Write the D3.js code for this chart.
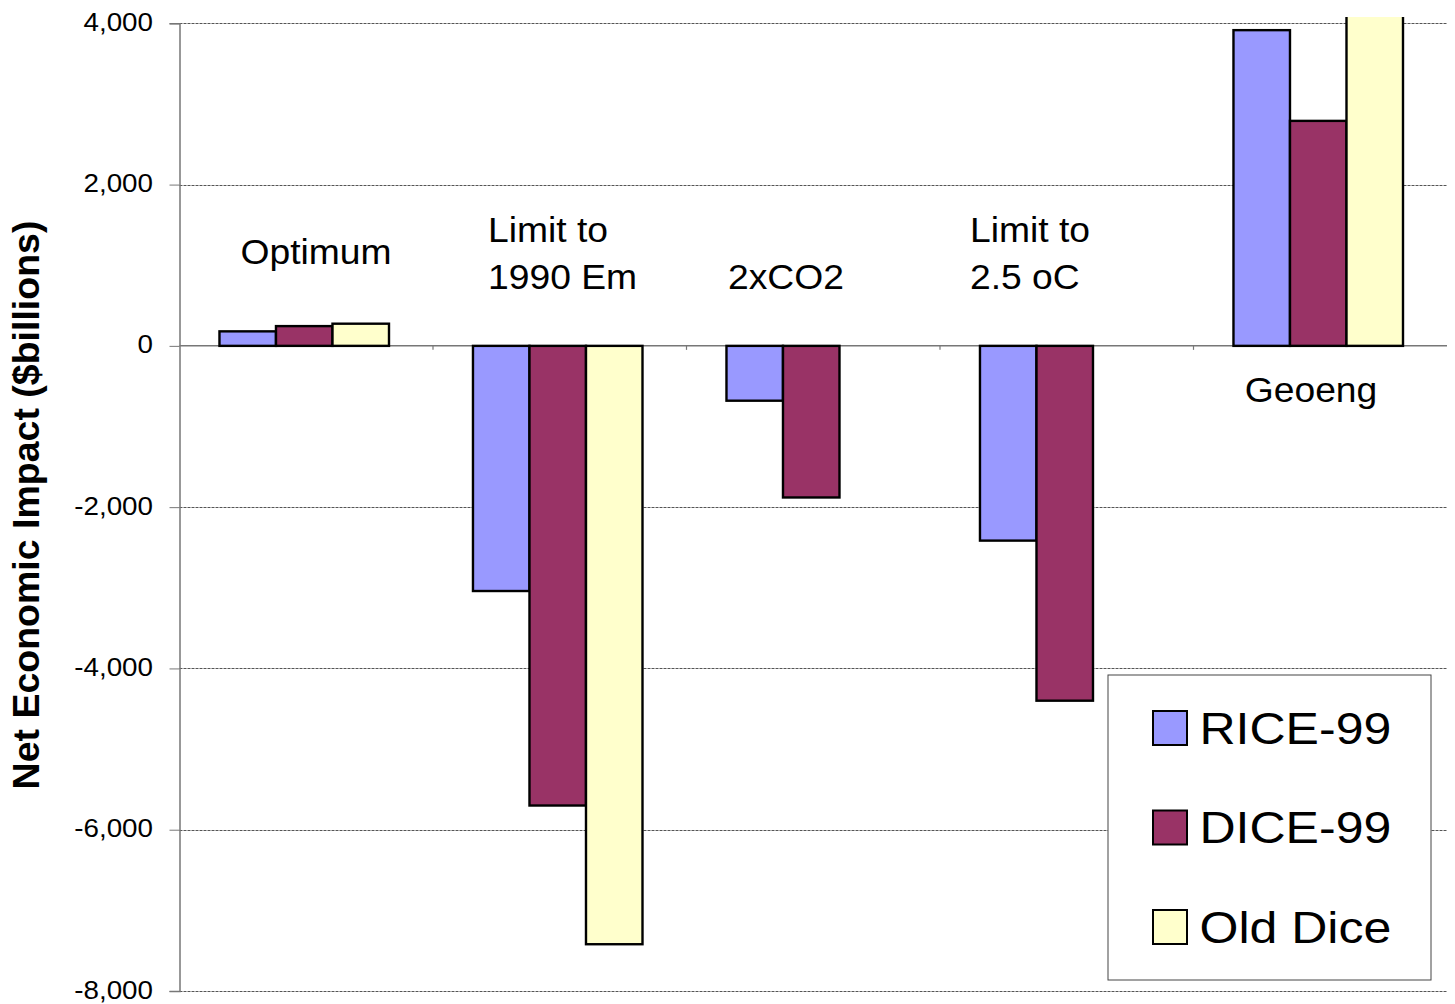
<!DOCTYPE html>
<html>
<head>
<meta charset="utf-8">
<script src="https://cdn.jsdelivr.net/npm/d3@7/dist/d3.min.js"></script>
<style>
  html, body { margin: 0; padding: 0; background: #fff; }
  svg { display: block; font-family: Arial, "Liberation Sans", sans-serif; }
</style>
</head>
<body>
<svg id="chart" width="1455" height="1004"></svg>
<script>
// Policy scenarios and their net economic impact ($billions) per model
const categories = ["Optimum", "Limit to 1990 Em", "2xCO2", "Limit to 2.5 oC", "Geoeng"];
const categoryLines = [["Optimum"], ["Limit to", "1990 Em"], ["2xCO2"], ["Limit to", "2.5 oC"], ["Geoeng"]];
const seriesNames = ["RICE-99", "DICE-99", "Old Dice"];
const rice99 = [180, -3040, -680, -2415, 3915];
const dice99 = [245, -5700, -1880, -4400, 2790];
const oldDice = [275, -7420, null, null, 4100];
const yTicks = [4000, 2000, 0, -2000, -4000, -6000, -8000];
const colors = ["#9999FF", "#993366", "#FFFFCC"];

const svg = d3.select("#chart");
const plotLeft = 179.5, plotRight = 1447, plotTop = 23.3, plotBottom = 991;
const FONT = "Arial, 'Liberation Sans', sans-serif";

const y = d3.scaleLinear().domain([-8000, 4000]).range([plotBottom, plotTop]);
const x = d3.scaleBand().domain(categories).range([plotLeft, plotRight]).padding(0);
const xs = d3.scaleBand().domain(seriesNames).range([0, x.bandwidth()])
  .paddingInner(0).paddingOuter(0.743).align(0.476);

// text drawn slightly wide, as in the original sheet
function wideText(sel, px, py, sx) {
  return sel.attr("x", 0).attr("y", 0)
    .attr("transform", `translate(${px},${py}) scale(${sx},1)`);
}

// clip region for bars (bars above the axis max are cut at the plot edge)
svg.append("defs").append("clipPath").attr("id", "plotClip")
  .append("rect").attr("x", plotLeft).attr("y", 17)
  .attr("width", plotRight - plotLeft).attr("height", plotBottom - 17);

// gridlines
svg.append("g").selectAll("line").data(yTicks.filter(d => d !== 0)).join("line")
  .attr("x1", plotLeft).attr("x2", plotRight)
  .attr("y1", d => Math.round(y(d)) + 0.5).attr("y2", d => Math.round(y(d)) + 0.5)
  .attr("stroke", "#555").attr("stroke-width", 1).attr("stroke-dasharray", "3,1");

// y axis
const fmt = d3.format(",");
const yAxis = d3.axisLeft(y).tickValues(yTicks).tickSize(10).tickPadding(16)
  .tickFormat(d => fmt(d).replace("\u2212", "-"));
const ya = svg.append("g").attr("transform", `translate(${plotLeft},0)`).call(yAxis);
ya.select(".domain").attr("stroke", "#777").attr("stroke-width", 1.5);
ya.selectAll(".tick line").attr("stroke", "#777");
ya.selectAll(".tick text").attr("font-size", 25.5).attr("fill", "#000")
  .attr("font-family", FONT)
  .attr("dy", null)
  .each(function () { wideText(d3.select(this), -26.5, 7, 1.09); });

// zero line with category separators
svg.append("line").attr("x1", plotLeft).attr("x2", plotRight)
  .attr("y1", y(0)).attr("y2", y(0)).attr("stroke", "#777").attr("stroke-width", 1.5);
svg.append("g").selectAll("line").data(categories.slice(1)).join("line")
  .attr("x1", d => x(d)).attr("x2", d => x(d))
  .attr("y1", y(0)).attr("y2", y(0) + 4)
  .attr("stroke", "#777").attr("stroke-width", 1.2);

// bars
const seriesValues = [rice99, dice99, oldDice];
const barData = [];
categories.forEach((c, i) => {
  seriesNames.forEach((s, j) => {
    const v = seriesValues[j][i];
    if (v !== null) barData.push({ c, s, v, j });
  });
});
svg.append("g").attr("clip-path", "url(#plotClip)")
  .selectAll("rect").data(barData).join("rect")
  .attr("x", d => x(d.c) + xs(d.s))
  .attr("width", xs.bandwidth())
  .attr("y", d => y(Math.max(0, d.v)))
  .attr("height", d => Math.abs(y(d.v) - y(0)))
  .attr("fill", d => colors[d.j])
  .attr("stroke", "#000").attr("stroke-width", 2.4);

// category labels inside the plot
const labelPos = [
  { dx: 136.5, anchor: "middle", y: 264 },
  { dx: 55, anchor: "start", y: 242 },
  { dx: 41.5, anchor: "start", y: 289 },
  { dx: 30, anchor: "start", y: 242 },
  { dx: 117.5, anchor: "middle", y: 402 }
];
categories.forEach((c, i) => {
  const p = labelPos[i];
  categoryLines[i].forEach((line, k) => {
    const t = svg.append("text")
      .attr("text-anchor", p.anchor)
      .attr("font-size", 34.5).attr("fill", "#000").text(line);
    wideText(t, x(c) + p.dx, p.y + k * 47, 1.08);
  });
});

// y axis title
svg.append("text")
  .attr("transform", `translate(38.5,505) rotate(-90)`)
  .attr("text-anchor", "middle")
  .attr("font-size", 37.5).attr("font-weight", "bold").attr("fill", "#000")
  .text("Net Economic Impact ($billions)");

// legend
const lg = svg.append("g");
lg.append("rect").attr("x", 1108).attr("y", 675).attr("width", 323).attr("height", 305)
  .attr("fill", "#fff").attr("stroke", "#444").attr("stroke-width", 1);
seriesNames.forEach((s, i) => {
  const cy = 728 + i * 99.5;
  lg.append("rect").attr("x", 1153).attr("y", cy - 17).attr("width", 34).attr("height", 34)
    .attr("fill", colors[i]).attr("stroke", "#000").attr("stroke-width", 2);
  const t = lg.append("text").attr("font-size", 43.5).attr("fill", "#000").text(s);
  wideText(t, 1199.5, cy + 15.5, 1.15);
});
</script>
</body>
</html>
